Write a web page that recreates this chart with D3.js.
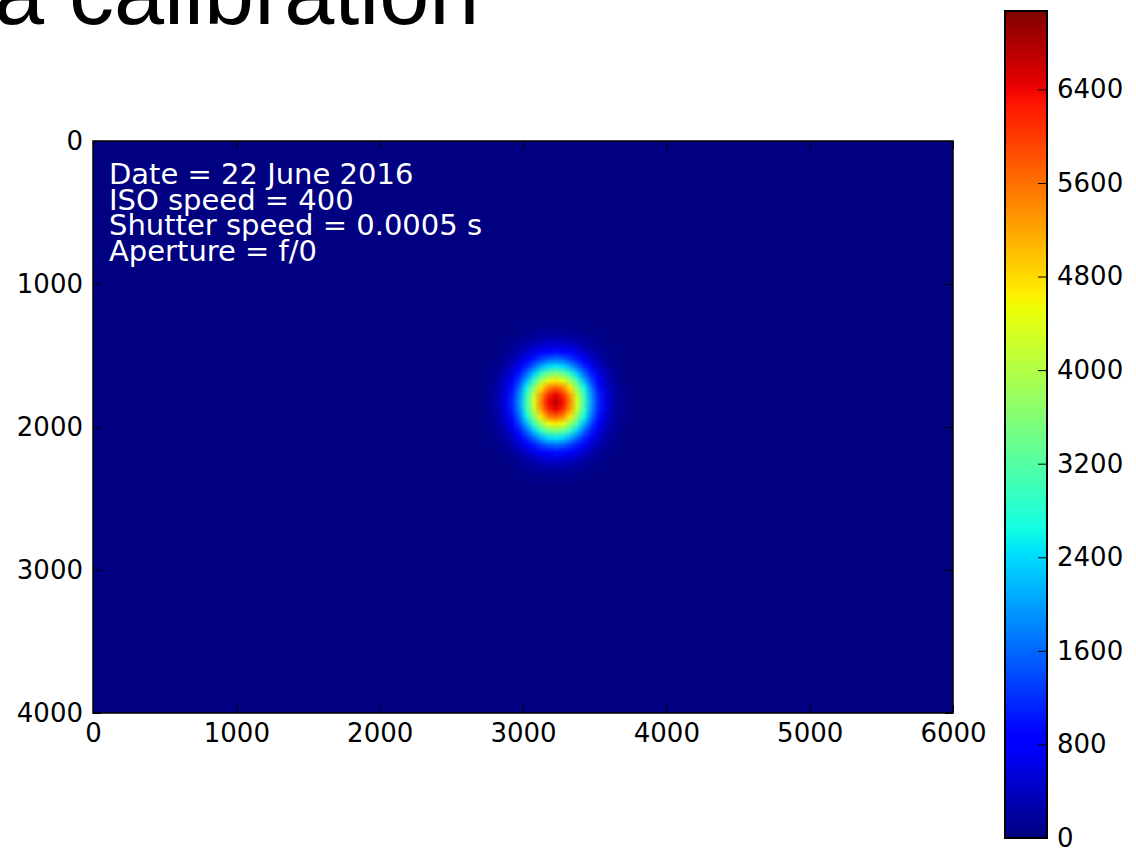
<!DOCTYPE html>
<html>
<head>
<meta charset="utf-8">
<script src="https://cdn.jsdelivr.net/npm/d3@7"></script>
<style>
  body { margin: 0; background: #fff; }
  svg { display: block; }
</style>
</head>
<body>
<svg id="chart" width="1136" height="848"></svg>
<script>
// values
const titleText = "a calibration";
const infoLines = ["Date = 22 June 2016", "ISO speed = 400", "Shutter speed = 0.0005 s", "Aperture = f/0"];
const xTicks = [0, 1000, 2000, 3000, 4000, 5000, 6000];
const yTicks = [0, 1000, 2000, 3000, 4000];
const cbarTicks = [0, 800, 1600, 2400, 3200, 4000, 4800, 5600, 6400];
const imageWidth = 6000;
const imageHeight = 4000;
const valueMin = 0;
const valueMax = 7070;

// the spot: cells of 50 x 50 image px, first cell at (2700, 1250); the rest of the frame is 0
const blobX0 = 2700;
const blobY0 = 1250;
const blobStep = 50;
const blob = [
  [0, 0, 0, 10, 10, 20, 30, 40, 50, 50, 60, 50, 50, 40, 30, 20, 10, 10, 0, 0, 0],
  [0, 0, 10, 10, 20, 40, 60, 80, 110, 120, 130, 120, 110, 80, 60, 40, 20, 10, 10, 0, 0],
  [0, 10, 10, 30, 50, 80, 130, 180, 230, 260, 280, 260, 230, 180, 130, 80, 50, 30, 10, 10, 0],
  [0, 10, 20, 50, 90, 160, 250, 350, 440, 510, 540, 510, 440, 350, 250, 160, 90, 50, 20, 10, 0],
  [10, 20, 40, 90, 170, 290, 440, 620, 800, 920, 970, 920, 800, 620, 440, 290, 170, 90, 40, 20, 10],
  [10, 30, 70, 150, 280, 480, 740, 1040, 1330, 1540, 1620, 1540, 1330, 1040, 740, 480, 280, 150, 70, 30, 10],
  [20, 50, 110, 230, 430, 740, 1140, 1610, 2060, 2380, 2500, 2380, 2060, 1610, 1140, 740, 430, 230, 110, 50, 20],
  [30, 70, 160, 330, 610, 1050, 1630, 2300, 2930, 3390, 3560, 3390, 2930, 2300, 1630, 1050, 610, 330, 160, 70, 30],
  [40, 90, 210, 430, 810, 1390, 2150, 3030, 3860, 4470, 4700, 4470, 3860, 3030, 2150, 1390, 810, 430, 210, 90, 40],
  [40, 110, 250, 520, 990, 1690, 2620, 3690, 4710, 5450, 5720, 5450, 4710, 3690, 2620, 1690, 990, 520, 250, 110, 40],
  [50, 120, 280, 590, 1110, 1900, 2950, 4150, 5300, 6130, 6440, 6130, 5300, 4150, 2950, 1900, 1110, 590, 280, 120, 50],
  [50, 130, 290, 610, 1160, 1980, 3070, 4320, 5510, 6380, 6700, 6380, 5510, 4320, 3070, 1980, 1160, 610, 290, 130, 50],
  [50, 120, 280, 590, 1110, 1900, 2950, 4150, 5300, 6130, 6440, 6130, 5300, 4150, 2950, 1900, 1110, 590, 280, 120, 50],
  [40, 110, 250, 520, 990, 1690, 2620, 3690, 4710, 5450, 5720, 5450, 4710, 3690, 2620, 1690, 990, 520, 250, 110, 40],
  [40, 90, 210, 430, 810, 1390, 2150, 3030, 3860, 4470, 4700, 4470, 3860, 3030, 2150, 1390, 810, 430, 210, 90, 40],
  [30, 70, 160, 330, 610, 1050, 1630, 2300, 2930, 3390, 3560, 3390, 2930, 2300, 1630, 1050, 610, 330, 160, 70, 30],
  [20, 50, 110, 230, 430, 740, 1140, 1610, 2060, 2380, 2500, 2380, 2060, 1610, 1140, 740, 430, 230, 110, 50, 20],
  [10, 30, 70, 150, 280, 480, 740, 1040, 1330, 1540, 1620, 1540, 1330, 1040, 740, 480, 280, 150, 70, 30, 10],
  [10, 20, 40, 90, 170, 290, 440, 620, 800, 920, 970, 920, 800, 620, 440, 290, 170, 90, 40, 20, 10],
  [0, 10, 20, 50, 90, 160, 250, 350, 440, 510, 540, 510, 440, 350, 250, 160, 90, 50, 20, 10, 0],
  [0, 10, 10, 30, 50, 80, 130, 180, 230, 260, 280, 260, 230, 180, 130, 80, 50, 30, 10, 10, 0],
  [0, 0, 10, 10, 20, 40, 60, 80, 110, 120, 130, 120, 110, 80, 60, 40, 20, 10, 10, 0, 0],
  [0, 0, 0, 10, 10, 20, 30, 40, 50, 50, 60, 50, 50, 40, 30, 20, 10, 10, 0, 0, 0]
];

// layout
const plot = {left: 93, top: 141, right: 953, bottom: 713};
const cbar = {left: 1005, right: 1047, top: 11, bottom: 838};
const labelFont = "DejaVu Sans, sans-serif";

const svg = d3.select("#chart");

const x = d3.scaleLinear().domain([0, imageWidth]).range([plot.left, plot.right]);
const y = d3.scaleLinear().domain([0, imageHeight]).range([plot.top, plot.bottom]);
const cbY = d3.scaleLinear().domain([valueMin, valueMax]).range([cbar.bottom, cbar.top]);

// matplotlib "jet"
const jetR = d3.scaleLinear().domain([0, 0.35, 0.66, 0.89, 1]).range([0, 0, 1, 1, 0.5]).clamp(true);
const jetG = d3.scaleLinear().domain([0, 0.125, 0.375, 0.64, 0.91, 1]).range([0, 0, 1, 1, 0, 0]).clamp(true);
const jetB = d3.scaleLinear().domain([0, 0.11, 0.34, 0.65, 1]).range([0.5, 1, 1, 0, 0]).clamp(true);
const norm = d3.scaleLinear().domain([valueMin, valueMax]).range([0, 1]).clamp(true);
function color(v) {
  const t = norm(v);
  return d3.rgb(jetR(t) * 255, jetG(t) * 255, jetB(t) * 255);
}

// background of the frame (value 0)
svg.append("rect")
  .attr("x", x(0)).attr("y", y(0))
  .attr("width", x(imageWidth) - x(0))
  .attr("height", y(imageHeight) - y(0))
  .attr("fill", color(0));

// spot cells -> small bitmap, smoothed when scaled (like imshow bilinear)
const rows = blob.length, cols = blob[0].length;
const cv = document.createElement("canvas");
cv.width = cols; cv.height = rows;
const ctx = cv.getContext("2d");
const img = ctx.createImageData(cols, rows);
blob.forEach((row, j) => row.forEach((v, i) => {
  const c = color(v), k = (j * cols + i) * 4;
  img.data[k] = c.r; img.data[k + 1] = c.g; img.data[k + 2] = c.b; img.data[k + 3] = 255;
}));
ctx.putImageData(img, 0, 0);

svg.append("image")
  .attr("href", cv.toDataURL())
  .attr("x", x(blobX0))
  .attr("y", y(blobY0))
  .attr("width", x(blobX0 + cols * blobStep) - x(blobX0))
  .attr("height", y(blobY0 + rows * blobStep) - y(blobY0))
  .attr("preserveAspectRatio", "none");

// info text
svg.append("g")
  .selectAll("text")
  .data(infoLines)
  .join("text")
  .attr("x", 109)
  .attr("y", (d, i) => 184 + i * 25.7)
  .attr("fill", "#fff")
  .style("font-family", labelFont)
  .style("font-size", "29px")
  .text(d => d);

// axes, classic inward ticks on all four sides
function styleAxis(g) {
  g.select(".domain").remove();
  g.selectAll("line").attr("stroke", "#000");
  g.selectAll("text").attr("fill", "#000")
    .style("font-family", labelFont).style("font-size", "26px");
}
svg.append("g").attr("transform", `translate(0,${plot.bottom})`)
  .call(d3.axisBottom(x).tickValues(xTicks).tickFormat(d3.format("d")).tickSizeInner(-8).tickSizeOuter(0).tickPadding(11))
  .call(styleAxis);
svg.append("g").attr("transform", `translate(0,${plot.top})`)
  .call(d3.axisTop(x).tickValues(xTicks).tickFormat("").tickSizeInner(-8).tickSizeOuter(0))
  .call(styleAxis);
svg.append("g").attr("transform", `translate(${plot.left},0)`)
  .call(d3.axisLeft(y).tickValues(yTicks).tickFormat(d3.format("d")).tickSizeInner(-8).tickSizeOuter(0).tickPadding(10))
  .call(styleAxis);
svg.append("g").attr("transform", `translate(${plot.right},0)`)
  .call(d3.axisRight(y).tickValues(yTicks).tickFormat("").tickSizeInner(-8).tickSizeOuter(0))
  .call(styleAxis);

svg.append("rect")
  .attr("x", plot.left).attr("y", plot.top)
  .attr("width", plot.right - plot.left).attr("height", plot.bottom - plot.top)
  .attr("fill", "none").attr("stroke", "#000").attr("stroke-width", 1.5);

// colorbar
const grad = svg.append("defs").append("linearGradient")
  .attr("id", "jet").attr("x1", 0).attr("y1", 1).attr("x2", 0).attr("y2", 0);
grad.selectAll("stop")
  .data(d3.range(0, 257).map(i => i / 256))
  .join("stop")
  .attr("offset", d => d)
  .attr("stop-color", d => color(norm.invert(d)).formatHex());

svg.append("rect")
  .attr("x", cbar.left).attr("y", cbar.top)
  .attr("width", cbar.right - cbar.left).attr("height", cbar.bottom - cbar.top)
  .attr("fill", "url(#jet)");

svg.append("g").attr("transform", `translate(${cbar.right},0)`)
  .call(d3.axisRight(cbY).tickValues(cbarTicks).tickFormat(d3.format("d")).tickSizeInner(-9).tickSizeOuter(0).tickPadding(10))
  .call(styleAxis);

svg.append("rect")
  .attr("x", cbar.left).attr("y", cbar.top)
  .attr("width", cbar.right - cbar.left).attr("height", cbar.bottom - cbar.top)
  .attr("fill", "none").attr("stroke", "#000").attr("stroke-width", 2);

// title, cut off by the top of the picture
svg.append("text")
  .attr("x", -6)
  .attr("y", 24)
  .attr("fill", "#000")
  .style("font-family", "Liberation Sans, Arial, sans-serif")
  .style("font-size", "90px")
  .text(titleText);
</script>
</body>
</html>
